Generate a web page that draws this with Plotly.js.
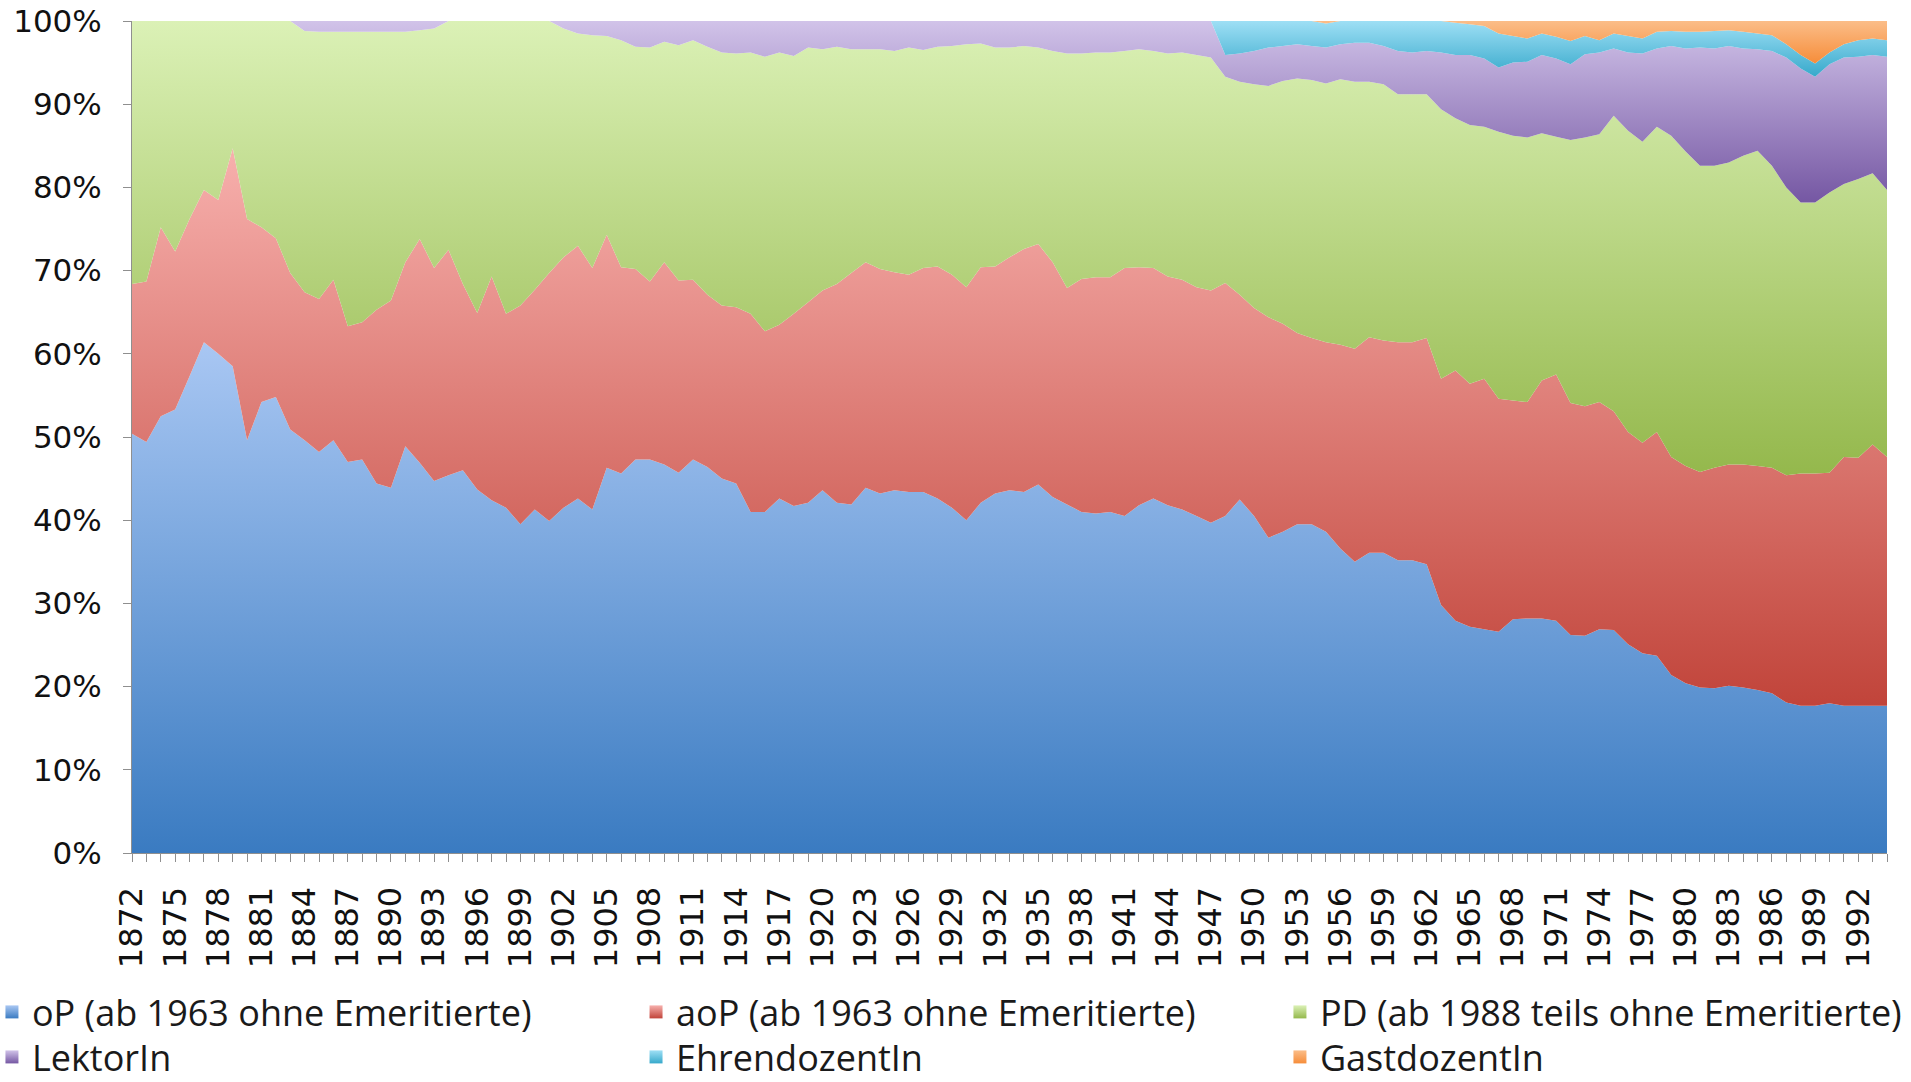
<!DOCTYPE html>
<html>
<head>
<meta charset="utf-8">
<script src="https://cdn.plot.ly/plotly-3.0.1.min.js"></script>
<style>html,body{margin:0;padding:0;background:#fff;}#chart{width:1911px;height:1082px;}</style>
</head>
<body>
<div id="chart"></div>
<script>
const years = [
1872,1873,1874,1875,1876,1877,1878,1879,1880,1881,
1882,1883,1884,1885,1886,1887,1888,1889,1890,1891,
1892,1893,1894,1895,1896,1897,1898,1899,1900,1901,
1902,1903,1904,1905,1906,1907,1908,1909,1910,1911,
1912,1913,1914,1915,1916,1917,1918,1919,1920,1921,
1922,1923,1924,1925,1926,1927,1928,1929,1930,1931,
1932,1933,1934,1935,1936,1937,1938,1939,1940,1941,
1942,1943,1944,1945,1946,1947,1948,1949,1950,1951,
1952,1953,1954,1955,1956,1957,1958,1959,1960,1961,
1962,1963,1964,1965,1966,1967,1968,1969,1970,1971,
1972,1973,1974,1975,1976,1977,1978,1979,1980,1981,
1982,1983,1984,1985,1986,1987,1988,1989,1990,1991,
1992,1993,1994];

const tickYears = [1872,1875,1878,1881,1884,1887,1890,1893,1896,1899,1902,1905,1908,1911,1914,1917,1920,1923,1926,1929,1932,1935,1938,1941,1944,1947,1950,1953,1956,1959,1962,1965,1968,1971,1974,1977,1980,1983,1986,1989,1992];

const yTicks = [0,10,20,30,40,50,60,70,80,90,100];

const oP = [
50.4,49.4,52.5,53.3,57.3,61.4,60.0,58.5,49.6,54.2,
54.8,50.9,49.6,48.2,49.6,47.0,47.3,44.4,43.9,48.9,
46.9,44.7,45.4,46.0,43.7,42.4,41.5,39.5,41.3,39.9,
41.5,42.6,41.3,46.3,45.6,47.3,47.3,46.7,45.7,47.3,
46.4,45.0,44.4,41.0,41.0,42.6,41.7,42.1,43.6,42.1,
41.9,43.9,43.2,43.6,43.4,43.4,42.6,41.5,40.0,42.1,
43.2,43.6,43.4,44.3,42.8,41.9,41.0,40.8,41.0,40.5,
41.8,42.6,41.8,41.3,40.5,39.7,40.5,42.5,40.5,37.9,
38.6,39.5,39.5,38.6,36.6,35.0,36.1,36.1,35.2,35.2,
34.7,29.8,27.9,27.2,26.9,26.6,28.1,28.2,28.2,27.9,
26.2,26.1,26.9,26.8,25.1,24.0,23.7,21.4,20.4,19.9,
19.8,20.1,19.9,19.6,19.2,18.1,17.7,17.7,18.0,17.7,
17.7,17.7,17.7];

const aoP = [
18.0,19.3,22.7,19.0,18.9,18.3,18.5,26.2,26.6,21.0,
19.1,18.8,17.8,18.4,19.3,16.3,16.5,20.9,22.5,22.1,
26.9,25.6,27.1,22.4,21.2,26.9,23.3,26.3,26.4,29.8,
30.1,30.4,29.0,28.0,24.8,22.9,21.4,24.3,23.1,21.6,
20.7,20.8,21.2,23.8,21.7,20.9,23.1,24.1,24.0,26.3,
27.8,27.1,27.0,26.2,26.1,26.9,27.9,28.0,28.0,28.3,
27.3,28.0,29.2,28.9,28.2,26.0,28.0,28.4,28.2,29.8,
28.6,27.7,27.5,27.6,27.5,27.9,28.0,24.6,25.0,26.5,
25.0,23.0,22.4,22.8,24.5,25.6,25.9,25.5,26.2,26.2,
27.2,27.2,30.1,29.2,30.1,28.0,26.3,26.0,28.6,29.6,
27.9,27.6,27.3,26.3,25.5,25.3,26.9,26.2,26.1,25.9,
26.5,26.6,26.8,26.9,27.1,27.3,27.9,27.9,27.7,29.9,
29.8,31.4,29.9];

const pd = [
31.6,31.3,24.8,27.7,23.8,20.3,21.5,15.3,23.8,24.8,
26.1,30.3,31.4,32.1,29.8,35.4,34.9,33.4,32.3,27.7,
25.1,28.8,27.5,31.6,35.1,30.7,35.2,34.2,32.3,30.3,
27.5,25.5,28.0,23.9,27.3,26.7,28.1,26.5,28.3,28.8,
29.8,30.4,30.5,31.4,33.0,32.7,31.0,30.6,29.0,28.5,
26.9,25.6,26.4,26.6,27.3,26.2,26.4,27.5,29.2,26.9,
26.3,25.2,24.4,23.6,25.4,28.2,27.1,27.0,27.0,26.1,
26.2,26.1,26.8,27.3,27.9,28.0,24.8,25.6,26.9,27.8,
29.2,30.6,31.0,31.1,31.9,32.1,30.7,30.8,29.8,29.8,
29.3,32.4,30.3,31.1,30.3,32.1,31.8,31.8,29.7,28.6,
31.6,32.3,32.2,35.5,36.2,36.2,36.7,38.6,37.8,36.8,
36.3,36.3,37.1,37.9,36.3,34.6,32.6,32.6,33.7,32.8,
33.5,32.6,32.1];

const lektor = [
0,0,0,0,0,0,0,0,0,0,
0,0,1.2,1.3,1.3,1.3,1.3,1.3,1.3,1.3,
1.1,0.9,0,0,0,0,0,0,0,0,
0.9,1.5,1.7,1.8,2.3,3.1,3.2,2.5,2.9,2.3,
3.1,3.8,3.9,3.8,4.3,3.8,4.2,3.2,3.4,3.1,
3.4,3.4,3.4,3.6,3.2,3.5,3.1,3.0,2.8,2.7,
3.2,3.2,3.0,3.2,3.6,3.9,3.9,3.8,3.8,3.6,
3.4,3.6,3.9,3.8,4.1,4.4,2.6,3.4,4.0,4.6,
4.2,4.1,4.1,4.3,4.2,4.7,4.7,4.6,5.2,5.0,
5.2,6.8,7.6,8.4,8.2,7.7,8.8,9.1,9.4,9.4,
9.1,10.0,9.8,8.1,9.4,10.6,9.4,10.8,12.4,14.2,
14.1,14.0,12.9,12.2,13.8,15.6,16.1,15.1,15.4,15.2,
14.7,14.2,16.0];

const ehren = [
0,0,0,0,0,0,0,0,0,0,
0,0,0,0,0,0,0,0,0,0,
0,0,0,0,0,0,0,0,0,0,
0,0,0,0,0,0,0,0,0,0,
0,0,0,0,0,0,0,0,0,0,
0,0,0,0,0,0,0,0,0,0,
0,0,0,0,0,0,0,0,0,0,
0,0,0,0,0,0,4.1,3.9,3.6,3.2,
3.0,2.8,3.0,2.9,2.8,2.6,2.6,3.0,3.6,3.8,
3.6,3.8,3.9,3.7,3.9,4.1,3.2,2.8,2.6,2.6,
2.8,2.2,1.5,1.8,2.0,1.8,2.0,1.8,2.0,1.9,
2.1,1.9,2.0,1.9,1.9,1.6,1.6,1.6,1.4,1.6,
2.0,2.0,2.0];

const gast = [
0,0,0,0,0,0,0,0,0,0,
0,0,0,0,0,0,0,0,0,0,
0,0,0,0,0,0,0,0,0,0,
0,0,0,0,0,0,0,0,0,0,
0,0,0,0,0,0,0,0,0,0,
0,0,0,0,0,0,0,0,0,0,
0,0,0,0,0,0,0,0,0,0,
0,0,0,0,0,0,0,0,0,0,
0,0,0,0.3,0,0,0,0,0,0,
0,0,0.2,0.4,0.6,1.5,1.8,2.1,1.5,1.9,
2.4,1.8,2.3,1.5,1.8,2.1,1.3,1.2,1.3,1.3,
1.2,1.1,1.3,1.5,1.7,2.8,4.1,5.1,3.8,2.8,
2.3,2.1,2.3];

const seriesNames = [
 'oP (ab 1963 ohne Emeritierte)',
 'aoP (ab 1963 ohne Emeritierte)',
 'PD (ab 1988 teils ohne Emeritierte)',
 'LektorIn',
 'EhrendozentIn',
 'GastdozentIn'
];
const seriesValues = [oP, aoP, pd, lektor, ehren, gast];
const darkColors  = ['#3a7bc1','#c1443a','#94b84c','#7557a3','#37a9cb','#f68d3a'];
const lightColors = ['#a9c7f3','#f7b0ad','#dbf1b6','#d1c3e9','#9edff5','#fbbd88'];
const legendIds   = ['legend','legend2','legend3','legend4','legend5','legend6'];

const traces = [];
seriesValues.forEach((vals, i) => {
  traces.push({
    type: 'scatter', mode: 'none', x: years, y: vals,
    stackgroup: 'one', groupnorm: 'percent', fill: 'tonexty',
    fillcolor: darkColors[i],
    fillgradient: {type: 'vertical', colorscale: [[0, darkColors[i]], [1, lightColors[i]]]},
    line: {width: 0}, showlegend: false, hoverinfo: 'skip', name: seriesNames[i]
  });
});
seriesValues.forEach((vals, i) => {
  traces.push({
    type: 'scatter', mode: 'markers', x: [null], y: [null], name: seriesNames[i],
    legend: legendIds[i], showlegend: true, hoverinfo: 'skip',
    marker: {symbol: 'square', size: 13, color: lightColors[i],
             gradient: {type: 'vertical', color: darkColors[i]}, line: {width: 0}}
  });
});

const xFont = {family: 'DejaVu Sans', size: 32, color: '#111'};
const yFont = {family: 'DejaVu Sans', size: 31, color: '#111'};
const legendFont = {family: 'Open Sans', size: 36, color: '#1a1a1a'};

function leg(x, y) {
  return {orientation: 'h', x: x, y: y, xanchor: 'left', yanchor: 'middle',
          font: legendFont, bgcolor: 'rgba(0,0,0,0)', borderwidth: 0};
}
const colX = [-0.0798, 0.2872, 0.6541];
const rowY = [-0.1911, -0.2452];

const layout = {
  width: 1911, height: 1082,
  margin: {l: 132, r: 24, t: 21, b: 229, autoexpand: false},
  paper_bgcolor: '#ffffff', plot_bgcolor: '#ffffff',
  showlegend: true,
  xaxis: {
    range: [1872, 1994], tickmode: 'array', tickvals: tickYears, ticktext: tickYears.map(String),
    tickangle: -90, ticks: 'outside', ticklen: 8, tickcolor: '#8f8f8f', tickwidth: 1,
    showline: true, linecolor: '#8f8f8f', linewidth: 1, showgrid: false, zeroline: false,
    tickfont: xFont, ticklabelstandoff: 12,
    minor: {dtick: 1, tick0: 1872, ticks: 'outside', ticklen: 8, tickcolor: '#8f8f8f', showgrid: false}
  },
  yaxis: {
    range: [0, 100], tickmode: 'array', tickvals: yTicks, ticktext: yTicks.map(v => v + '%'),
    ticks: 'outside', ticklen: 8, tickcolor: '#8f8f8f',
    showline: true, linecolor: '#8f8f8f', linewidth: 1, showgrid: false, zeroline: false,
    tickfont: yFont, ticklabelstandoff: 15
  },
  legend:  leg(colX[0], rowY[0]),
  legend2: leg(colX[1], rowY[0]),
  legend3: leg(colX[2], rowY[0]),
  legend4: leg(colX[0], rowY[1]),
  legend5: leg(colX[1], rowY[1]),
  legend6: leg(colX[2], rowY[1])
};

Plotly.newPlot('chart', traces, layout, {staticPlot: true, displayModeBar: false});
</script>
</body>
</html>
